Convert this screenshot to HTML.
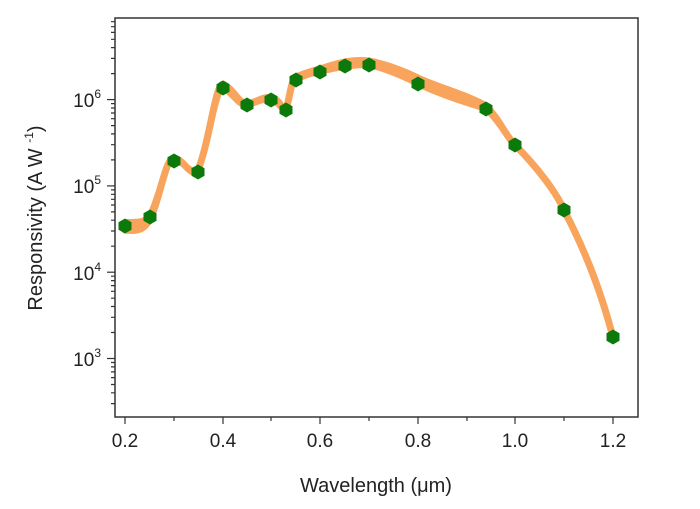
<!DOCTYPE html>
<html><head><style>body{margin:0;background:#fff}svg{display:block}text{font-family:"Liberation Sans",Arial,sans-serif;fill:#222}</style></head>
<body>
<svg width="700" height="509" xmlns="http://www.w3.org/2000/svg">
<defs><polygon id="h" points="6.5,3.75 0,7.5 -6.5,3.75 -6.5,-3.75 0,-7.5 6.5,-3.75" fill="#0b7a0b"/></defs>
<rect x="115" y="18" width="523" height="399" fill="none" stroke="#333" stroke-width="1.5"/>
<g stroke="#333" stroke-width="1.2">
<line x1="107" y1="358.5" x2="115" y2="358.5"/><line x1="107" y1="272.2" x2="115" y2="272.2"/><line x1="107" y1="185.9" x2="115" y2="185.9"/><line x1="107" y1="99.6" x2="115" y2="99.6"/>
<path d="M111,403.6H115M111,392.8H115M111,384.5H115M111,377.6H115M111,371.9H115M111,366.9H115M111,362.5H115
M111,332.5H115M111,317.3H115M111,306.5H115M111,298.2H115M111,291.3H115M111,285.6H115M111,280.6H115M111,276.2H115
M111,246.2H115M111,231H115M111,220.2H115M111,211.9H115M111,205H115M111,199.3H115M111,194.3H115M111,189.9H115
M111,159.9H115M111,144.7H115M111,133.9H115M111,125.6H115M111,118.7H115M111,113H115M111,108H115M111,103.6H115
M111,73.6H115M111,58.4H115M111,47.6H115M111,39.3H115M111,32.4H115M111,26.7H115M111,21.7H115" fill="none"/>
<line x1="125" y1="417" x2="125" y2="424"/><line x1="174" y1="417" x2="174" y2="421"/>
<line x1="223" y1="417" x2="223" y2="424"/><line x1="271" y1="417" x2="271" y2="421"/>
<line x1="320" y1="417" x2="320" y2="424"/><line x1="369" y1="417" x2="369" y2="421"/>
<line x1="418" y1="417" x2="418" y2="424"/><line x1="467" y1="417" x2="467" y2="421"/>
<line x1="515" y1="417" x2="515" y2="424"/><line x1="564" y1="417" x2="564" y2="421"/>
<line x1="613" y1="417" x2="613" y2="424"/>
</g>
<g font-size="19" text-anchor="middle">
<text x="125" y="447">0.2</text><text x="223" y="447">0.4</text><text x="320" y="447">0.6</text>
<text x="418" y="447">0.8</text><text x="515" y="447">1.0</text><text x="613" y="447">1.2</text>
</g>
<g font-size="19" text-anchor="end">
<text x="101" y="107">10<tspan font-size="12" dy="-9">6</tspan></text>
<text x="101" y="193">10<tspan font-size="12" dy="-9">5</tspan></text>
<text x="101" y="280">10<tspan font-size="12" dy="-9">4</tspan></text>
<text x="101" y="366">10<tspan font-size="12" dy="-9">3</tspan></text>
</g>
<text x="376" y="492" font-size="20" text-anchor="middle">Wavelength (μm)</text>
<text transform="translate(42,218) rotate(-90)" font-size="20" text-anchor="middle">Responsivity (A W <tspan font-size="12" dy="-9">-1</tspan><tspan dy="9">)</tspan></text>
<path d="M125,230 C140,232 145,228 150,219 C160,200 165,158 174,158 C185,160 190,178 198,170 C210,140 215,85 223,84 C235,90 238,104 247,103 C255,104 262,96 271,98 C280,98 282,112 286,108 C290,100 290,82 296,77 C305,73 312,71 320,69 C335,64 350,59 369,61 C390,65 410,74 418,78 C440,88 470,96 486,106 C500,120 505,135 515,145 C535,165 555,190 564,210 C590,260 603,300 613,337" fill="none" stroke="#f8a45c" stroke-width="7" stroke-linecap="round" stroke-linejoin="round"/>
<path d="M125,222 C140,222 145,222 150,215 C160,195 165,160 174,160 C185,162 190,174 198,170 C210,140 215,90 223,88 C235,95 238,106 247,105 C255,104 262,98 271,100 C280,102 282,112 286,110 C290,100 290,82 296,80 C305,75 312,73 320,72 C335,68 350,65 369,65 C390,70 410,80 418,84 C440,95 470,104 486,109 C500,122 505,135 515,145 C535,165 555,190 564,210 C590,260 603,300 613,337" fill="none" stroke="#f8a45c" stroke-width="6"/>
<path d="M125,226 C140,227 145,225 150,217 C160,197 165,159 174,159 C185,161 190,176 198,170 C210,140 215,87 223,86 C235,92 238,105 247,104 C255,104 262,97 271,99 C280,100 282,112 286,109 C290,100 290,82 296,78 C305,74 312,72 320,70 C335,66 350,62 369,63 C390,67 410,77 418,81 C440,91 470,100 486,107" fill="none" stroke="#f8a45c" stroke-width="6"/>
<use href="#h" x="125" y="226"/><use href="#h" x="150" y="217"/><use href="#h" x="174" y="161"/><use href="#h" x="198" y="172"/>
<use href="#h" x="223" y="88"/><use href="#h" x="247" y="105"/><use href="#h" x="271" y="100"/><use href="#h" x="286" y="110"/>
<use href="#h" x="296" y="80"/><use href="#h" x="320" y="72"/><use href="#h" x="345" y="66"/><use href="#h" x="369" y="65"/>
<use href="#h" x="418" y="84"/><use href="#h" x="486" y="109"/><use href="#h" x="515" y="145"/><use href="#h" x="564" y="210"/>
<use href="#h" x="613" y="337"/>
</svg>
</body></html>
